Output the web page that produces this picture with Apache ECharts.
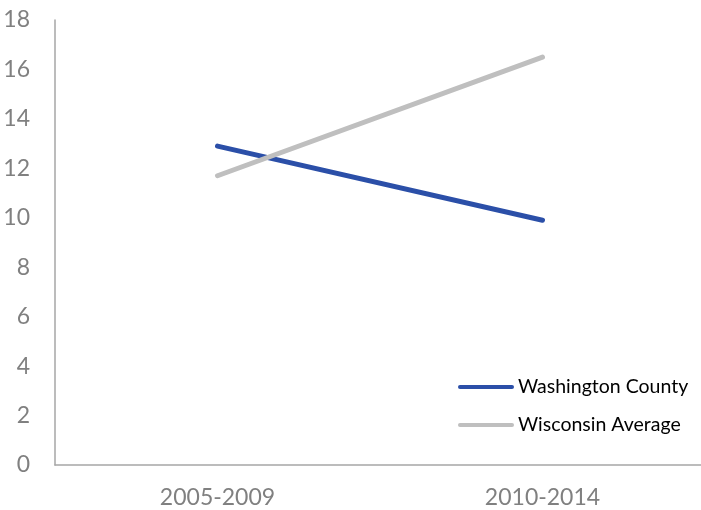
<!DOCTYPE html>
<html><head><meta charset="utf-8">
<script src="https://cdn.jsdelivr.net/npm/echarts@6/dist/echarts.min.js"></script>
<style>html,body{margin:0;padding:0;background:#fff;overflow:hidden}#c{width:705px;height:510px}</style>
</head><body><div id="c"></div>
<script>
const categories = ['2005-2009', '2010-2014'];
const washington = [12.9, 9.9];
const wisconsin = [11.7, 16.5];
const yTicks = { min: 0, max: 18, interval: 2 };

const chart = echarts.init(document.getElementById('c'), null, { renderer: 'canvas' });
const legendIcon = 'path://M2,0 L54,0 A2,2 0 0 1 54,4 L2,4 A2,2 0 0 1 2,0 Z';
chart.setOption({
  animation: false,
  grid: { left: 55, right: 0, top: 20, bottom: 45, containLabel: false },
  xAxis: {
    type: 'category', data: categories, boundaryGap: true,
    axisLine: { lineStyle: { color: '#A6A6A6', width: 1.5 } },
    axisTick: { show: false },
    axisLabel: { color: '#808080', fontSize: 23, fontFamily: 'Lato', margin: 21 }
  },
  yAxis: {
    type: 'value', min: yTicks.min, max: yTicks.max, interval: yTicks.interval,
    axisLine: { show: true, lineStyle: { color: '#A6A6A6', width: 1.5 } },
    axisTick: { show: false },
    splitLine: { show: false },
    axisLabel: { color: '#808080', fontSize: 23, fontFamily: 'Lato', margin: 25, align: 'right' }
  },
  legend: {
    orient: 'vertical', left: 458, top: 377, padding: 0, itemWidth: 56, itemHeight: 5, itemGap: 18,
    icon: legendIcon,
    textStyle: { color: '#000000', fontSize: 19.5, fontFamily: 'Lato', padding: [0, 0, 0, -1] },
    data: ['Washington County', 'Wisconsin Average']
  },
  series: [
    { name: 'Washington County', type: 'line', data: washington, showSymbol: false, symbol: 'none',
      lineStyle: { color: '#2B4FA8', width: 5, cap: 'round' }, itemStyle: { color: '#2B4FA8' } },
    { name: 'Wisconsin Average', type: 'line', data: wisconsin, showSymbol: false, symbol: 'none',
      lineStyle: { color: '#BFBFBF', width: 5, cap: 'round' }, itemStyle: { color: '#BFBFBF' } }
  ]
});
</script></body></html>
